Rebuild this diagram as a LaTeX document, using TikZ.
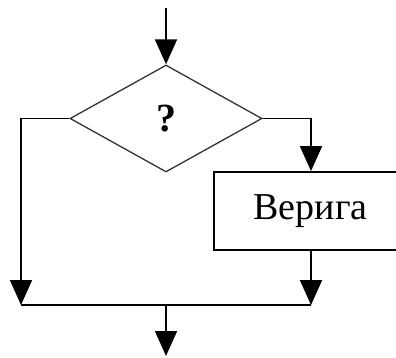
\documentclass[tikz,border=0pt]{standalone}
\usepackage{fontspec}
\setmainfont{Liberation Serif}
\usetikzlibrary{positioning,shapes.geometric,arrows.meta}
\tikzstyle{dec}=[%
      diamond, draw=black!80, line width=1.3pt, fill=none, aspect=1.79,
      minimum width=192pt, minimum height=107pt, inner sep=0pt
]
\tikzstyle{pr}=[%
      rectangle, draw=black, line width=1.8pt, fill=none,
      minimum width=193pt, minimum height=78pt, inner sep=0pt
]
\tikzstyle{ln}=[%
      line width=1.8pt, draw=black
]

\begin{document}
\begin{tikzpicture}[x=1pt, y=-1pt,
    -{Triangle[length=25pt,width=22pt]}
  ]
    \useasboundingbox (0,0) rectangle (396,358);

    \node[dec] (Q) at (166,118.5) {\raisebox{-6pt}{\fontsize{40}{44}\selectfont\bfseries ?}};
    \node[pr]  (V) at (310.5,211) {\fontsize{38}{44}\selectfont Верига};

    \coordinate (in)  at (166,8);
    \coordinate (L)   at (21,118.5);
    \coordinate (R)   at (311,118.5);
    \coordinate (BL)  at (21,305);
    \coordinate (BR)  at (311,305);
    \coordinate (M)   at (166,305);
    \coordinate (out) at (166,356);

    \draw[ln] (in) -- (Q.north);
    \draw[ln, -] (Q.east) -- (R);
    \draw[ln] (R) -- (R |- V.north);
    \draw[ln, -] (Q.west) -- (L);
    \draw[ln] (L) -- (BL);
    \draw[ln] (V.south -| BR) -- (BR);
    \draw[ln, -] (BL) -- (BR);
    \draw[ln] (M) -- (out);

  \end{tikzpicture}
\end{document}
